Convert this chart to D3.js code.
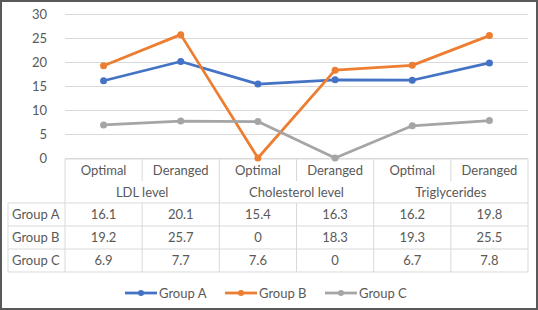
<!DOCTYPE html>
<html><head><meta charset="utf-8">
<script src="https://cdn.jsdelivr.net/npm/d3@7"></script>
<style>
html,body{margin:0;padding:0;background:#fff;}
svg{display:block;}
text{font-family:Lato, "Open Sans", sans-serif;fill:#595959;}
</style></head>
<body>
<script>
const categories = ["Optimal","Deranged","Optimal","Deranged","Optimal","Deranged"];
const groupLabels = ["LDL level","Cholesterol level","Triglycerides"];
const seriesNames = ["Group A","Group B","Group C"];
const groupA = [16.1,20.1,15.4,16.3,16.2,19.8];
const groupB = [19.2,25.7,0,18.3,19.3,25.5];
const groupC = [6.9,7.7,7.6,0,6.7,7.8];
const yTicks = [0,5,10,15,20,25,30];
const colors = ["#4472C4","#ED7D31","#A5A5A5"];
const seriesValues = [groupA, groupB, groupC];

(function(){
const W = 538, H = 310;
const FS = "13px";
const svg = d3.select("body").append("svg").attr("width", W).attr("height", H);
svg.append("rect").attr("x",1).attr("y",1).attr("width",W-2).attr("height",H-2)
  .attr("fill","#fff").attr("stroke","#595959").attr("stroke-width",2);

const pLeft = 65, pRight = 528, pTop = 14, pBottom = 158;
const x = d3.scaleBand().domain(d3.range(categories.length)).range([pLeft, pRight]);
const y = d3.scaleLinear().domain([0,30]).range([pBottom, pTop]);
const grid = "#D9D9D9";

const yAxis = svg.append("g").attr("transform", `translate(${pLeft},0)`)
  .call(d3.axisLeft(y).tickValues(yTicks).tickSize(-(pRight-pLeft)).tickPadding(18));
yAxis.select(".domain").remove();
yAxis.selectAll(".tick line").attr("stroke", grid).attr("stroke-width",1);
yAxis.selectAll(".tick text").attr("fill","#595959").style("font-size",FS).style("font-family","Lato");

const rowH = 23;
const headTop = 159, headMid = 181, headBot = 203;
const tableBot = headBot + rowH*3;
const labelLeft = 8;
const tg = svg.append("g").attr("stroke", grid).attr("stroke-width",1).attr("fill","none");
tg.append("line").attr("x1",pLeft).attr("x2",pRight).attr("y1",headTop).attr("y2",headTop);
for (let r = 0; r <= 3; r++) {
  const yy = headBot + r*rowH;
  tg.append("line").attr("x1",labelLeft).attr("x2",pRight).attr("y1",yy).attr("y2",yy);
}
const bw = x.bandwidth();
for (let i = 0; i <= categories.length; i++) {
  const xx = i < categories.length ? x(i) : pRight;
  const full = (i % 2 === 0);
  tg.append("line").attr("x1",xx).attr("x2",xx).attr("y1",headTop).attr("y2", full ? tableBot : headMid);
  if (!full) tg.append("line").attr("x1",xx).attr("x2",xx).attr("y1",headBot).attr("y2",tableBot);
}
tg.append("line").attr("x1",labelLeft).attr("x2",labelLeft).attr("y1",headBot).attr("y2",tableBot);

const txt = svg.append("g").style("font-size",FS);
categories.forEach((c,i) => {
  txt.append("text").attr("x", x(i)+bw/2).attr("y", 170).attr("dy","0.35em")
    .attr("text-anchor","middle").text(c);
});
groupLabels.forEach((g,j) => {
  txt.append("text").attr("x", x(j*2)+bw).attr("y", 192).attr("dy","0.35em")
    .attr("text-anchor","middle").text(g);
});
seriesNames.forEach((s,r) => {
  const cy = headBot + r*rowH + rowH/2;
  txt.append("text").attr("x", 12).attr("y", cy).attr("dy","0.35em").text(s);
  seriesValues[r].forEach((v,i) => {
    txt.append("text").attr("x", x(i)+bw/2).attr("y", cy).attr("dy","0.35em")
      .attr("text-anchor","middle").text(v);
  });
});

const line = d3.line().x((d,i) => x(i)+bw/2).y(d => y(d));
seriesValues.forEach((vals,k) => {
  svg.append("path").datum(vals).attr("d", line).attr("fill","none")
    .attr("stroke", colors[k]).attr("stroke-width", 2.75).attr("stroke-linejoin","round");
  svg.append("g").selectAll("circle").data(vals).join("circle")
    .attr("cx",(d,i)=>x(i)+bw/2).attr("cy",d=>y(d)).attr("r",3.5).attr("fill",colors[k]);
});

const legendX = [125, 225, 325];
const ly = 293;
seriesNames.forEach((s,k) => {
  const g = svg.append("g").attr("transform", `translate(${legendX[k]},${ly})`);
  g.append("line").attr("x1",0).attr("x2",32).attr("y1",0).attr("y2",0)
    .attr("stroke",colors[k]).attr("stroke-width",2.75);
  g.append("circle").attr("cx",16).attr("cy",0).attr("r",3).attr("fill",colors[k]);
  g.append("text").attr("x",34).attr("y",0).attr("dy","0.35em").style("font-size",FS).text(s);
});
})();
</script>
</body></html>
